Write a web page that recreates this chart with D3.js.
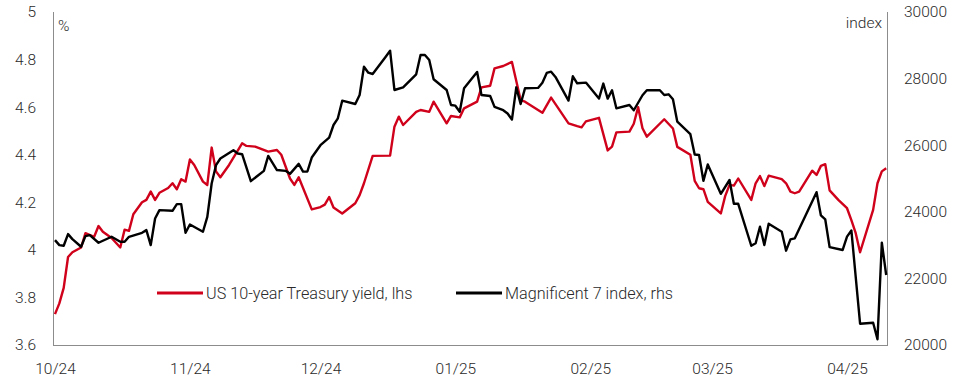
<!DOCTYPE html>
<meta charset="utf-8">
<style>
    body { margin: 0; background: #fff; }
    text { font-family: Roboto, "Liberation Sans", sans-serif; font-weight: 300; fill: #2a2a2a; }
    .axis-line { stroke: #8c8c8c; stroke-width: 1; shape-rendering: crispEdges; }
</style>
<svg width="953" height="388"></svg>
<script src="https://cdn.jsdelivr.net/npm/d3@7"></script>
<script>

    // US 10-year Treasury yield (%), lhs
    var yieldSeries = [
        ["2024-10-01", 3.73], ["2024-10-02", 3.775], ["2024-10-03", 3.84], ["2024-10-04", 3.97],
        ["2024-10-05", 3.99], ["2024-10-07", 4.01], ["2024-10-08", 4.07], ["2024-10-10", 4.055],
        ["2024-10-11", 4.10], ["2024-10-12", 4.076], ["2024-10-14", 4.05], ["2024-10-16", 4.01],
        ["2024-10-17", 4.085], ["2024-10-18", 4.08], ["2024-10-19", 4.15], ["2024-10-21", 4.20],
        ["2024-10-22", 4.21], ["2024-10-23", 4.245], ["2024-10-24", 4.21], ["2024-10-25", 4.24],
        ["2024-10-27", 4.26], ["2024-10-28", 4.28], ["2024-10-29", 4.255], ["2024-10-30", 4.297],
        ["2024-10-31", 4.287], ["2024-11-01", 4.38], ["2024-11-02", 4.357], ["2024-11-04", 4.287],
        ["2024-11-05", 4.273], ["2024-11-06", 4.43], ["2024-11-07", 4.33], ["2024-11-08", 4.305],
        ["2024-11-10", 4.357], ["2024-11-13", 4.448], ["2024-11-14", 4.437], ["2024-11-16", 4.434],
        ["2024-11-19", 4.413], ["2024-11-21", 4.42], ["2024-11-22", 4.40], ["2024-11-24", 4.30],
        ["2024-11-25", 4.273], ["2024-11-26", 4.305], ["2024-11-29", 4.17], ["2024-12-01", 4.18],
        ["2024-12-02", 4.19], ["2024-12-03", 4.222], ["2024-12-04", 4.178], ["2024-12-06", 4.153],
        ["2024-12-09", 4.196], ["2024-12-10", 4.23], ["2024-12-11", 4.28], ["2024-12-13", 4.395],
        ["2024-12-17", 4.396], ["2024-12-18", 4.518], ["2024-12-19", 4.56], ["2024-12-20", 4.525],
        ["2024-12-23", 4.58], ["2024-12-24", 4.588], ["2024-12-26", 4.58], ["2024-12-27", 4.623],
        ["2024-12-30", 4.532], ["2024-12-31", 4.563], ["2025-01-02", 4.557], ["2025-01-03", 4.595],
        ["2025-01-06", 4.623], ["2025-01-07", 4.683], ["2025-01-09", 4.69], ["2025-01-10", 4.763],
        ["2025-01-12", 4.773], ["2025-01-14", 4.79], ["2025-01-16", 4.63], ["2025-01-17", 4.623],
        ["2025-01-21", 4.576], ["2025-01-23", 4.64], ["2025-01-27", 4.532], ["2025-01-29", 4.52],
        ["2025-01-30", 4.515], ["2025-01-31", 4.54], ["2025-02-03", 4.555], ["2025-02-05", 4.418],
        ["2025-02-06", 4.434], ["2025-02-07", 4.494], ["2025-02-10", 4.497], ["2025-02-11", 4.53],
        ["2025-02-12", 4.60], ["2025-02-13", 4.511], ["2025-02-14", 4.476], ["2025-02-18", 4.549],
        ["2025-02-20", 4.51], ["2025-02-21", 4.433], ["2025-02-24", 4.40], ["2025-02-25", 4.29],
        ["2025-02-26", 4.259], ["2025-02-27", 4.255], ["2025-02-28", 4.202], ["2025-03-03", 4.153],
        ["2025-03-04", 4.226], ["2025-03-05", 4.273], ["2025-03-06", 4.27], ["2025-03-07", 4.30],
        ["2025-03-10", 4.21], ["2025-03-11", 4.28], ["2025-03-12", 4.31], ["2025-03-13", 4.268],
        ["2025-03-14", 4.312], ["2025-03-17", 4.297], ["2025-03-18", 4.28], ["2025-03-19", 4.245],
        ["2025-03-20", 4.238], ["2025-03-21", 4.245], ["2025-03-24", 4.333], ["2025-03-25", 4.315],
        ["2025-03-26", 4.353], ["2025-03-27", 4.36], ["2025-03-28", 4.25], ["2025-03-30", 4.21],
        ["2025-04-01", 4.175], ["2025-04-02", 4.125], ["2025-04-03", 4.07], ["2025-04-04", 3.99],
        ["2025-04-07", 4.168], ["2025-04-08", 4.28], ["2025-04-09", 4.33], ["2025-04-10", 4.343]
    ];

    // Magnificent 7 index, rhs
    var m7Series = [
        ["2024-10-01", 23150], ["2024-10-02", 23000], ["2024-10-03", 22980], ["2024-10-04", 23330],
        ["2024-10-05", 23180], ["2024-10-07", 22950], ["2024-10-08", 23270], ["2024-10-09", 23300],
        ["2024-10-11", 23070], ["2024-10-14", 23250], ["2024-10-16", 23100], ["2024-10-17", 23100],
        ["2024-10-18", 23250], ["2024-10-21", 23370], ["2024-10-22", 23450], ["2024-10-23", 23000],
        ["2024-10-24", 23800], ["2024-10-25", 24050], ["2024-10-28", 24030], ["2024-10-29", 24230],
        ["2024-10-30", 24230], ["2024-10-31", 23370], ["2024-11-01", 23620], ["2024-11-04", 23400],
        ["2024-11-05", 23850], ["2024-11-06", 24850], ["2024-11-07", 25400], ["2024-11-08", 25600],
        ["2024-11-11", 25850], ["2024-11-12", 25750], ["2024-11-13", 25730], ["2024-11-15", 24920],
        ["2024-11-18", 25230], ["2024-11-19", 25680], ["2024-11-21", 25255], ["2024-11-23", 25230],
        ["2024-11-24", 25140], ["2024-11-26", 25440], ["2024-11-27", 25205], ["2024-11-28", 25210],
        ["2024-11-29", 25630], ["2024-12-01", 26000], ["2024-12-03", 26230], ["2024-12-04", 26607],
        ["2024-12-05", 26807], ["2024-12-06", 27336], ["2024-12-09", 27237], ["2024-12-10", 27507],
        ["2024-12-11", 28357], ["2024-12-12", 28177], ["2024-12-13", 28138], ["2024-12-16", 28658],
        ["2024-12-17", 28838], ["2024-12-18", 27658], ["2024-12-20", 27738], ["2024-12-23", 28129],
        ["2024-12-24", 28709], ["2024-12-25", 28709], ["2024-12-26", 28559], ["2024-12-27", 27979],
        ["2024-12-30", 27658], ["2024-12-31", 27207], ["2025-01-01", 27187], ["2025-01-02", 27006],
        ["2025-01-03", 27708], ["2025-01-06", 28200], ["2025-01-07", 27507], ["2025-01-09", 27477],
        ["2025-01-10", 27150], ["2025-01-12", 27050], ["2025-01-13", 26950], ["2025-01-14", 26770],
        ["2025-01-15", 27738], ["2025-01-16", 27237], ["2025-01-17", 27708], ["2025-01-20", 27720],
        ["2025-01-21", 27877], ["2025-01-22", 28170], ["2025-01-23", 28208], ["2025-01-24", 28050],
        ["2025-01-27", 27340], ["2025-01-28", 28070], ["2025-01-29", 27860], ["2025-01-31", 27880],
        ["2025-02-03", 27400], ["2025-02-04", 27850], ["2025-02-05", 27400], ["2025-02-06", 27650],
        ["2025-02-07", 27108], ["2025-02-10", 27207], ["2025-02-11", 27050], ["2025-02-13", 27500],
        ["2025-02-14", 27650], ["2025-02-17", 27650], ["2025-02-18", 27507], ["2025-02-19", 27528],
        ["2025-02-20", 27380], ["2025-02-21", 26706], ["2025-02-24", 26330], ["2025-02-25", 25720],
        ["2025-02-26", 25706], ["2025-02-27", 24930], ["2025-02-28", 25420], ["2025-03-03", 24540],
        ["2025-03-05", 24955], ["2025-03-06", 24240], ["2025-03-07", 24240], ["2025-03-10", 22980],
        ["2025-03-11", 23054], ["2025-03-12", 23553], ["2025-03-13", 23003], ["2025-03-14", 23640],
        ["2025-03-17", 23403], ["2025-03-18", 22832], ["2025-03-19", 23173], ["2025-03-20", 23204],
        ["2025-03-25", 24590], ["2025-03-26", 23890], ["2025-03-27", 23770], ["2025-03-28", 22940],
        ["2025-03-31", 22853], ["2025-04-01", 23253], ["2025-04-02", 23440], ["2025-04-04", 20640],
        ["2025-04-07", 20670], ["2025-04-08", 20171], ["2025-04-09", 23073], ["2025-04-10", 22102]
    ];

    var xTicks = ["2024-10-01", "2024-11-01", "2024-12-01", "2025-01-01", "2025-02-01", "2025-03-01", "2025-04-01"];
    var leftTicks = [3.6, 3.8, 4, 4.2, 4.4, 4.6, 4.8, 5];
    var rightTicks = [20000, 22000, 24000, 26000, 28000, 30000];
    var seriesNames = ["US 10-year Treasury yield, lhs", "Magnificent 7 index, rhs"];
    var seriesColors = ["#d0021b", "#000000"];

    var svg = d3.select("svg"),
        margin = {top: 12, right: 65, bottom: 43, left: 53},
        width = +svg.attr("width") - margin.left - margin.right,
        height = +svg.attr("height") - margin.top - margin.bottom;

    var parse = d3.timeParse("%Y-%m-%d");

    var x = d3.scaleTime()
        .domain([d3.timeHour.offset(parse("2024-10-01"), -11), d3.timeHour.offset(parse("2025-04-10"), 10)])
        .range([0, width]);
    var yL = d3.scaleLinear().domain([3.6, 5]).range([height, 0]);
    var yR = d3.scaleLinear().domain([20000, 30000]).range([height, 0]);

    var g = svg.append("g").attr("transform", "translate(" + margin.left + "," + margin.top + ")");

    // axis frame: left, bottom, right
    g.append("line").attr("class", "axis-line").attr("x1", 0.5).attr("x2", 0.5).attr("y1", 0).attr("y2", height);
    g.append("line").attr("class", "axis-line").attr("x1", 0).attr("x2", width).attr("y1", height + 0.5).attr("y2", height + 0.5);
    g.append("line").attr("class", "axis-line").attr("x1", width - 0.5).attr("x2", width - 0.5).attr("y1", 0).attr("y2", height);

    var leftAxis = d3.axisLeft(yL).tickValues(leftTicks).tickSize(0).tickPadding(17)
        .tickFormat(function (d) { return +d.toFixed(1); });
    g.append("g").call(leftAxis).call(function (s) { s.select(".domain").remove(); })
        .selectAll("text").attr("font-size", 15.5).attr("font-family", null);

    var rightAxis = d3.axisRight(yR).tickValues(rightTicks).tickSize(0).tickPadding(16)
        .tickFormat(d3.format("d"));
    g.append("g").attr("transform", "translate(" + width + ",0)").call(rightAxis)
        .call(function (s) { s.select(".domain").remove(); })
        .selectAll("text").attr("font-size", 15.5).attr("font-family", null);

    var bottomAxis = d3.axisBottom(x).tickValues(xTicks.map(parse)).tickSize(0).tickPadding(18)
        .tickFormat(d3.timeFormat("%m/%y"));
    g.append("g").attr("transform", "translate(0," + height + ")").call(bottomAxis)
        .call(function (s) { s.select(".domain").remove(); })
        .selectAll("text").attr("font-size", 15.5).attr("font-family", null);

    g.selectAll(".tick text").style("fill", "#2a2a2a");

    // unit labels
    g.append("text").attr("x", 5).attr("y", 19).attr("font-size", 15.5).text("%");
    g.append("text").attr("x", width - 6).attr("y", 16).attr("text-anchor", "end").attr("font-size", 15.5).text("index");

    var lineL = d3.line()
        .x(function (d) { return x(parse(d[0])); })
        .y(function (d) { return yL(d[1]); });
    var lineR = d3.line()
        .x(function (d) { return x(parse(d[0])); })
        .y(function (d) { return yR(d[1]); });

    g.append("path").datum(yieldSeries)
        .attr("fill", "none").attr("stroke", seriesColors[0]).attr("stroke-width", 2.4)
        .attr("stroke-linejoin", "round").attr("d", lineL);

    g.append("path").datum(m7Series)
        .attr("fill", "none").attr("stroke", seriesColors[1]).attr("stroke-width", 2.4)
        .attr("stroke-linejoin", "round").attr("d", lineR);

    // legend
    var legendX = [157, 456];
    var legend = svg.append("g").selectAll("g")
        .data(seriesNames)
        .enter().append("g")
        .attr("transform", function (d, i) { return "translate(" + legendX[i] + ",293)"; });
    legend.append("rect").attr("fill", "#fff").attr("x", -4).attr("y", -12)
        .attr("width", function (d, i) { return i === 0 ? 272 : 232; }).attr("height", 24);
    legend.append("line").attr("x1", 0).attr("x2", 46).attr("y1", 0).attr("y2", 0)
        .attr("stroke", function (d, i) { return seriesColors[i]; }).attr("stroke-width", 3);
    legend.append("text").attr("x", 49).attr("y", 5.5).attr("font-size", 16.2)
        .text(function (d) { return d; });

</script>
